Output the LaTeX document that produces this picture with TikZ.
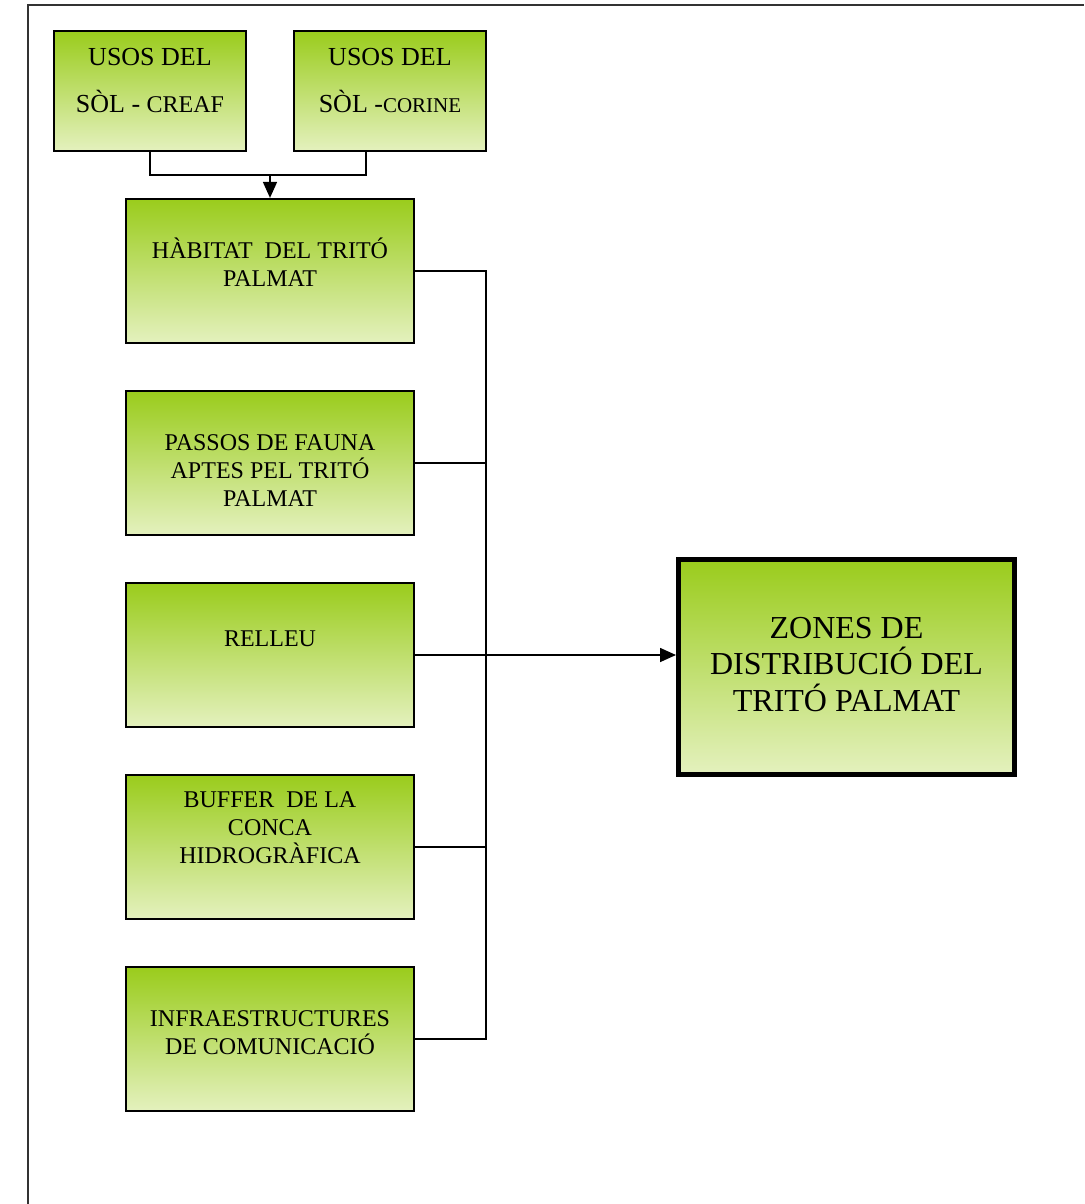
\documentclass[tikz,border=0pt]{standalone}
\usepackage{fontspec}
\setmainfont{Liberation Serif}
\usetikzlibrary{arrows.meta}

\definecolor{verd}{RGB}{154,204,28}
\definecolor{verdclar}{RGB}{228,241,190}

\tikzset{
  caixa/.style={draw,line width=1.1pt,top color=verd,bottom color=verdclar,
    minimum width=144pt,minimum height=72pt,inner sep=0pt},
  petita/.style={caixa,minimum width=96pt,minimum height=60pt},
  gran/.style={caixa,line width=2.5pt,minimum width=168pt,minimum height=107.5pt},
  rotul/.style={align=center,font=\fontsize{12}{14}\selectfont},
  rotulgran/.style={align=center,font=\fontsize{16}{18.25}\selectfont},
  rotulsup/.style={align=center,font=\fontsize{13}{23.5}\selectfont},
  linia/.style={line width=0.8pt},
  fletxa/.style={linia,-{Triangle[length=8pt,width=7pt]}},
}

\begin{document}
\begin{tikzpicture}[x=0.5pt,y=-0.5pt]
    \useasboundingbox (0,0) rectangle (1084,1204);
    \draw[line width=1pt,black!80] (28,1204) -- (28,5) -- (1084,5);

    % capes d'entrada
    \node[petita,label={[rotulsup,yshift=5.25pt]center:USOS DEL\\SÒL - {\fontsize{12}{23.5}\selectfont CREAF}}] (creaf) at (150,91) {};
    \node[petita,label={[rotulsup,yshift=5.25pt]center:USOS DEL\\SÒL -{\fontsize{10.5}{23.5}\selectfont CORINE}}] (corine) at (390,91) {};
    \node[caixa,label={[rotul,yshift=4.5pt]center:HÀBITAT\ \ DEL TRITÓ\\PALMAT}] (habitat) at (270,271) {};
    \node[caixa,label={[rotul,yshift=-4pt]center:PASSOS DE FAUNA\\APTES PEL TRITÓ\\PALMAT}] (passos) at (270,463) {};
    \node[caixa,label={[rotul,yshift=8pt]center:RELLEU}] (relleu) at (270,655) {};
    \node[caixa,label={[rotul,yshift=9.75pt]center:BUFFER\ \ DE LA\\CONCA\\HIDROGRÀFICA}] (buffer) at (270,847) {};
    \node[caixa,label={[rotul,yshift=3pt]center:INFRAESTRUCTURES\\DE COMUNICACIÓ}] (infra) at (270,1039) {};

    % resultat
    \node[gran,label={[rotulgran,yshift=1.25pt]center:ZONES DE\\DISTRIBUCIÓ DEL\\TRITÓ PALMAT}] (zones) at (846.5,667) {};

    \coordinate (unio) at (270,175);
    \coordinate (bdalt) at (486,271);
    \coordinate (bbaix) at (486,1039);

    \draw[linia] (creaf.south) |- (unio) -| ([xshift=-12pt]corine.south);
    \draw[fletxa] (unio) -- (habitat.north);
    \draw[linia] (habitat.east) -- (bdalt) -- (bbaix) -- (infra.east);
    \foreach \n in {passos,buffer}
        \draw[linia] (\n.east) -- (\n.east -| bdalt);
    \draw[fletxa] (relleu.east) -- (relleu.east -| zones.west);
\end{tikzpicture}
\end{document}
